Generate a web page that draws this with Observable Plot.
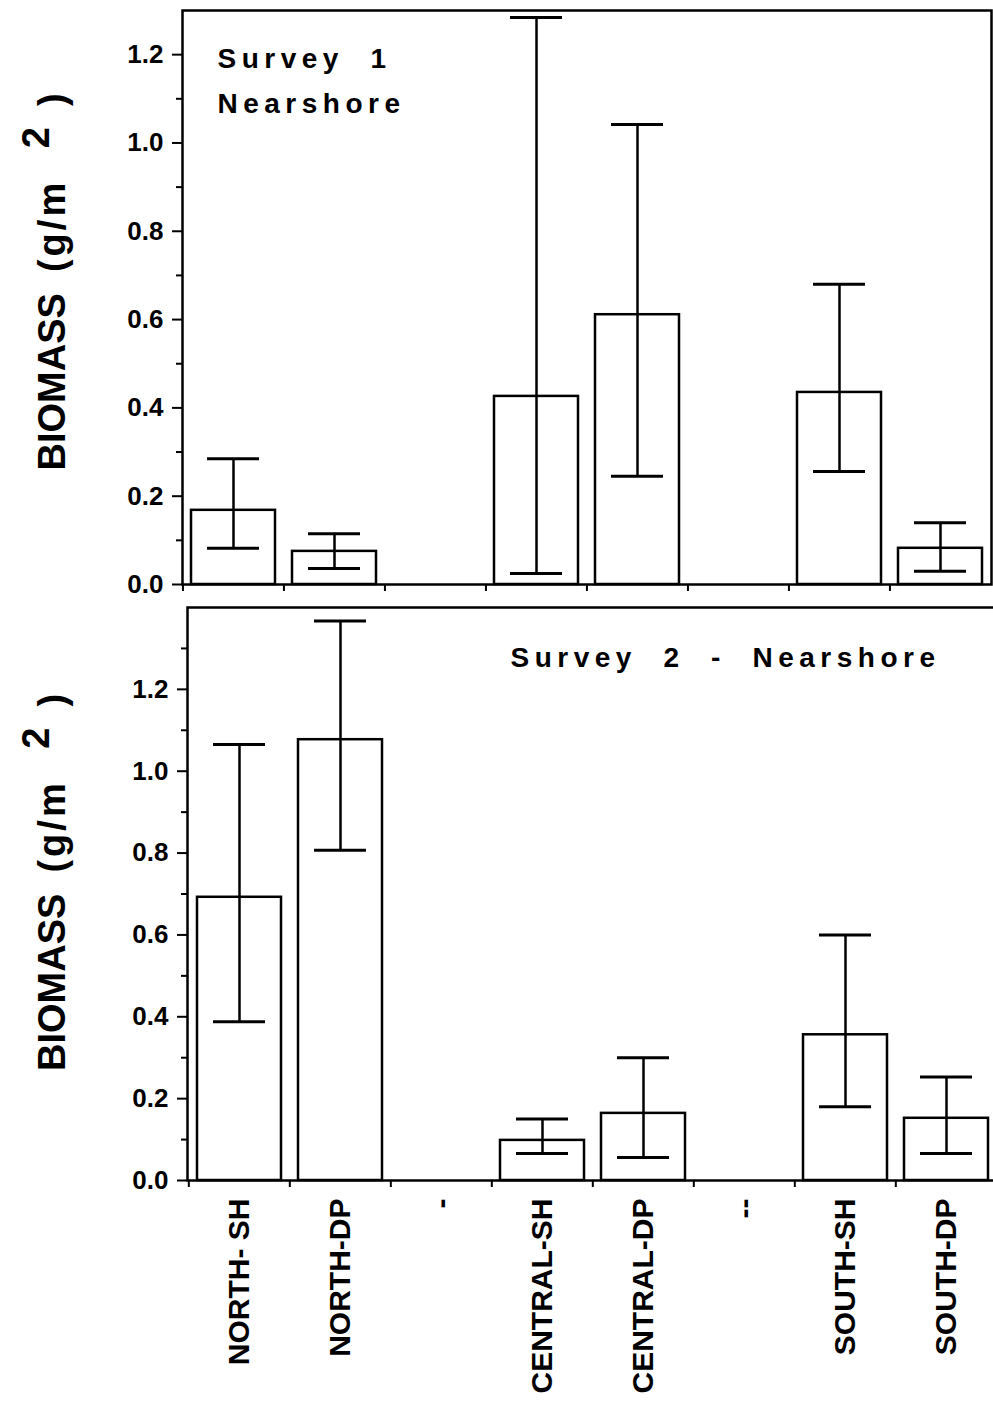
<!DOCTYPE html>
<html><head><meta charset="utf-8">
<script src="https://cdn.jsdelivr.net/npm/d3@7"></script>
<script src="https://cdn.jsdelivr.net/npm/@observablehq/plot@0.6"></script>
<style>
body{margin:0;background:#fff;}
#chart{width:993px;overflow:hidden;}
svg{display:block;overflow:visible;}
svg text{white-space:pre;}
</style></head><body><div id="chart"></div>
<script>
// categories (including the two blank separator bands)
const sites = ["NORTH- SH","NORTH-DP","-","CENTRAL-SH","CENTRAL-DP","--","SOUTH-SH","SOUTH-DP"];
const barSites = ["NORTH- SH","NORTH-DP","CENTRAL-SH","CENTRAL-DP","SOUTH-SH","SOUTH-DP"];

// Survey 1 – Nearshore
const survey1Mean = [0.168, 0.075, 0.426, 0.611, 0.435, 0.082];
const survey1Low  = [0.082, 0.036, 0.025, 0.245, 0.256, 0.030];
const survey1High = [0.285, 0.115, 1.284, 1.042, 0.680, 0.140];

// Survey 2 – Nearshore
const survey2Mean = [0.692, 1.077, 0.098, 0.164, 0.356, 0.152];
const survey2Low  = [0.388, 0.807, 0.066, 0.056, 0.180, 0.066];
const survey2High = [1.065, 1.367, 0.150, 0.300, 0.600, 0.253];

// axis ticks
const majorTicks = [0, 0.2, 0.4, 0.6, 0.8, 1.0, 1.2];
const minorTicks1 = [0.1, 0.3, 0.5, 0.7, 0.9, 1.1];
const minorTicks2 = [0.1, 0.3, 0.5, 0.7, 0.9, 1.1, 1.3];

const yTitle = "BIOMASS  (g/m 2 )";
const note1 = "Survey  1\nNearshore";
const note2 = "Survey  2  -  Nearshore";

const FONT = "'Liberation Sans', Arial, Helvetica, sans-serif";

function makeRows(mean, low, high) {
  return barSites.map((s, i) => ({site: s, mean: mean[i], low: low[i], high: high[i]}));
}

function panel(o) {
  const rows = makeRows(o.mean, o.low, o.high);
  const step = (993 - o.marginLeft - o.marginRight) / sites.length;
  const marks = [
    Plot.barY(rows, {x: "site", y: "mean", fill: "white", stroke: "black", strokeWidth: 2.5}),
    Plot.ruleX(rows, {x: "site", y1: "low", y2: "high", stroke: "black", strokeWidth: 2.5}),
    Plot.tickY(rows, {x: "site", y: "low", stroke: "black", strokeWidth: 3, insetLeft: 16, insetRight: 16}),
    Plot.tickY(rows, {x: "site", y: "high", stroke: "black", strokeWidth: 3, insetLeft: 16, insetRight: 16}),
    Plot.frame({stroke: "black", strokeWidth: 2.5}),
    Plot.axisY({ticks: majorTicks, tickFormat: d3.format(".1f"), tickSize: 10, tickPadding: 9,
      fontSize: 26, fontWeight: "bold", strokeWidth: 2, label: null}),
    Plot.axisY({ticks: o.minor, tickFormat: () => "", tickSize: 6, strokeWidth: 2, label: null}),
    Plot.axisX({tickSize: 7, tickFormat: () => "", strokeWidth: 2, dx: -step / 2, label: null}),
    Plot.text([yTitle], {frameAnchor: "left", rotate: -90, dx: o.titleDx, dy: o.titleDy,
      fontSize: 38, fontWeight: "bold", textAnchor: "start"}),
    Plot.text([o.note], {frameAnchor: "top-left", textAnchor: "start", lineAnchor: "top",
      dx: o.noteDx, dy: o.noteDy, fontSize: 28, fontWeight: "bold", lineHeight: 1.6})
  ];
  if (o.showLabels) {
    marks.push(Plot.axisX({tickSize: 0, tickRotate: -90, tickPadding: 18, fontSize: 30,
      fontWeight: "bold", label: null}));
  }
  const svg = Plot.plot({
    width: 993, height: o.height,
    marginTop: o.marginTop, marginBottom: o.marginBottom,
    marginLeft: o.marginLeft, marginRight: o.marginRight,
    style: {fontFamily: FONT, color: "black", background: "white", overflow: "visible"},
    x: {domain: sites, paddingInner: 0.164, paddingOuter: 0.082, label: null},
    y: {domain: [0, o.yMax], label: null},
    marks
  });
  // superscript "2" in the axis title, letter spacing in the notes
  d3.select(svg).selectAll("text").each(function() {
    const t = d3.select(this);
    if (this.textContent === yTitle) {
      t.text(null);
      t.append("tspan").text("BIOMASS  ");
      t.append("tspan").style("letter-spacing", "3px").text("(g/m");
      t.append("tspan").attr("dy", "-0.42em").text("   2");
      t.append("tspan").attr("dy", "0.42em").text("  )");
    } else if (this.textContent.startsWith("Survey")) {
      t.style("letter-spacing", "5.5px");
    }
  });
  return svg;
}

const chart = document.getElementById("chart");
chart.append(panel({
  mean: survey1Mean, low: survey1Low, high: survey1High, yMax: 1.3, minor: minorTicks1,
  height: 595, marginTop: 10, marginBottom: 11, marginLeft: 182, marginRight: 2,
  titleDx: -130, titleDy: 173, note: note1, noteDx: 35, noteDy: 26, showLabels: false
}));
chart.append(panel({
  mean: survey2Mean, low: survey2Low, high: survey2High, yMax: 1.4, minor: minorTicks2,
  height: 815, marginTop: 12, marginBottom: 230, marginLeft: 187, marginRight: -5,
  titleDx: -135, titleDy: 177, note: note2, noteDx: 323, noteDy: 28, showLabels: true
}));
</script></body></html>
